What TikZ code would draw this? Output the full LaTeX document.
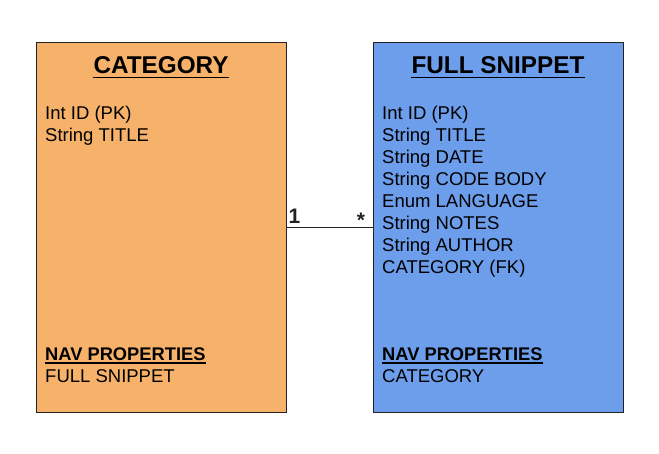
\documentclass[tikz,border=0pt]{standalone}
\usepackage{fontspec}
\setmainfont{Liberation Sans}
\definecolor{boxorange}{HTML}{F6B26B}
\definecolor{boxblue}{HTML}{6D9EEB}
\definecolor{edgecol}{HTML}{222222}
\begin{document}
\begin{tikzpicture}[x=1pt,y=-1pt,
  entity/.style={draw=edgecol,line width=0.9pt,minimum width=250pt,minimum height=370pt,anchor=north west,inner sep=0pt},
  ttl/.style={font=\fontsize{24.3}{26}\selectfont\bfseries,inner sep=0pt,anchor=base},
  attr/.style={font=\fontsize{18.5}{22}\selectfont,inner sep=0pt,anchor=base west},
  navh/.style={font=\fontsize{18.3}{22}\selectfont\bfseries,inner sep=0pt,anchor=base west},
  mult/.style={font=\fontsize{21}{22}\selectfont\bfseries,inner sep=0pt,text=edgecol}]
\useasboundingbox (0,0) rectangle (659,454);
\node[entity,fill=boxorange] (cat) at (36,42) {};
\node[entity,fill=boxblue] (snip) at (373,42) {};
% titles
\node[ttl] (catT) at (161,74) {CATEGORY};
\node[ttl] (snipT) at (498,74) {FULL SNIPPET};
\draw[line width=1.6pt] ([yshift=-3.5pt]catT.base west) -- ([yshift=-3.5pt]catT.base east);
\draw[line width=1.6pt] ([yshift=-3.5pt]snipT.base west) -- ([yshift=-3.5pt]snipT.base east);
% category attributes
\node[attr] (c1) at (45,119.5) {Int ID (PK)};
\node[attr] (c2) at (45,141.5) {String TITLE};
\node[navh] (cn) at (45,360.5) {NAV PROPERTIES};
\draw[line width=1.2pt] ([yshift=-2.6pt]cn.base west) -- ([yshift=-2.6pt]cn.base east);
\node[attr] (cn1) at (45,382.5) {FULL SNIPPET};
% snippet attributes
\node[attr] (s1) at (382,119.5) {Int ID (PK)};
\node[attr] (s2) at (382,141.5) {String TITLE};
\node[attr] (s3) at (382,163.5) {String DATE};
\node[attr] (s4) at (382,185.5) {String CODE BODY};
\node[attr] (s5) at (382,207.5) {Enum LANGUAGE};
\node[attr] (s6) at (382,229.5) {String NOTES};
\node[attr] (s7) at (382,251.5) {String AUTHOR};
\node[attr] (s8) at (382,273.5) {CATEGORY (FK)};
\node[navh] (sn) at (382,360.5) {NAV PROPERTIES};
\draw[line width=1.2pt] ([yshift=-2.6pt]sn.base west) -- ([yshift=-2.6pt]sn.base east);
\node[attr] (sn1) at (382,382.5) {CATEGORY};
% relation
\coordinate (ca) at (cat.east |- 0,227);
\coordinate (sa) at (snip.west |- 0,227);
\draw[edgecol,line width=0.8pt] (ca) -- (sa);
\node[mult] (m1) at (294.5,216.5) {1};
\node[mult] (m2) at (361,220) {*};
\end{tikzpicture}
\end{document}
